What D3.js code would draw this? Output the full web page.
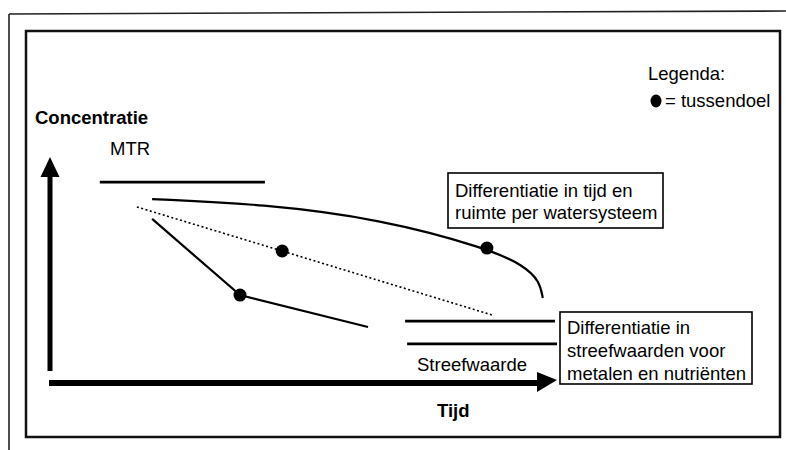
<!DOCTYPE html>
<html><head><meta charset="utf-8">
<script src="https://cdn.jsdelivr.net/npm/d3@7"></script>
<style>
html,body{margin:0;padding:0;background:#fff;}
svg{display:block;font-family:"Liberation Sans",Arial,Helvetica,sans-serif;}
</style></head>
<body><svg id="c" width="786" height="450"></svg>
<script>
// Conceptual chart: Tijd (x, 0-100) vs Concentratie (y, 0-100)
const mtrLine = [[10.0, 88.9], [42.5, 88.9]];
const upperCurve = [[20.3, 81.4], [42.1, 79.2], [65.2, 72.6], [86.2, 59.7], [93.5, 52.0], [96.6, 45.0], [97.2, 37.6]];
const dottedLine = [[17.3, 77.9], [45.9, 58.4], [87.2, 30.1]];
const lowerLine = [[20.3, 72.6], [37.6, 38.9], [62.8, 24.8]];
const streefUpper = [[70.1, 27.4], [99.6, 27.4]];
const streefLower = [[70.5, 17.3], [100, 17.3]];
const goalPoints = [[45.9, 58.4], [37.6, 38.9], [86.2, 59.7]];
const labels = {y: "Concentratie", x: "Tijd", mtr: "MTR", streef: "Streefwaarde"};
const legendTitle = "Legenda:";
const legendItem = "= tussendoel";
const box1Lines = ["Differentiatie in tijd en", "ruimte per watersysteem"];
const box2Lines = ["Differentiatie in", "streefwaarden voor", "metalen en nutriënten"];

const svg = d3.select("#c");
const x = d3.scaleLinear().domain([0, 100]).range([49, 557]);
const y = d3.scaleLinear().domain([0, 100]).range([383, 157]);
const FS = 18.5;

// outer frame lines (scan border)
svg.append("line").attr("x1", 9).attr("y1", 14).attr("x2", 786).attr("y2", 11).attr("stroke", "#222").attr("stroke-width", 1.6);
svg.append("line").attr("x1", 9).attr("y1", 14).attr("x2", 9).attr("y2", 450).attr("stroke", "#222").attr("stroke-width", 1.6);
// inner box
svg.append("rect").attr("x", 26).attr("y", 31).attr("width", 754).attr("height", 406)
  .attr("fill", "none").attr("stroke", "#111").attr("stroke-width", 2.5);

// arrows (axes)
const yBot = 371;
svg.append("line").attr("x1", x(0) + 1).attr("x2", x(0) + 1).attr("y1", yBot).attr("y2", y(100) + 18)
  .attr("stroke", "#000").attr("stroke-width", 5);
svg.append("path").attr("d", `M${x(0)+1-9.5},${y(100)+20} L${x(0)+1},${y(100)} L${x(0)+1+9.5},${y(100)+20} Z`).attr("fill", "#000");
svg.append("line").attr("x1", x(0)).attr("x2", x(100) - 18).attr("y1", y(0)).attr("y2", y(0))
  .attr("stroke", "#000").attr("stroke-width", 6);
svg.append("path").attr("d", `M${x(100)-20},${y(0)-11} L${x(100)},${y(0)-3} L${x(100)-20},${y(0)+9} Z`).attr("fill", "#000");

// axis labels
svg.append("text").attr("x", 35).attr("y", 124).attr("font-size", FS).attr("font-weight", "bold").text(labels.y);
svg.append("text").attr("x", 437).attr("y", 417).attr("font-size", FS).attr("font-weight", "bold").text(labels.x);
svg.append("text").attr("x", 110).attr("y", 155).attr("font-size", FS).text(labels.mtr);
svg.append("text").attr("x", 417).attr("y", 371).attr("font-size", FS).text(labels.streef);

const line = d3.line().x(d => x(d[0])).y(d => y(d[1]));
const curve = d3.line().x(d => x(d[0])).y(d => y(d[1])).curve(d3.curveBasis);

svg.append("path").attr("d", line(mtrLine)).attr("fill", "none").attr("stroke", "#000").attr("stroke-width", 2.6);
svg.append("path").attr("d", curve(upperCurve)).attr("fill", "none").attr("stroke", "#000").attr("stroke-width", 2.2);
svg.append("path").attr("d", line(dottedLine)).attr("fill", "none").attr("stroke", "#000").attr("stroke-width", 1.6).attr("stroke-dasharray", "2,2.5");
svg.append("path").attr("d", line(lowerLine)).attr("fill", "none").attr("stroke", "#000").attr("stroke-width", 2.2);
svg.append("path").attr("d", line(streefUpper)).attr("fill", "none").attr("stroke", "#000").attr("stroke-width", 2.6);
svg.append("path").attr("d", line(streefLower)).attr("fill", "none").attr("stroke", "#000").attr("stroke-width", 2.6);

svg.selectAll("circle.goal").data(goalPoints).join("circle").attr("class", "goal")
  .attr("cx", d => x(d[0])).attr("cy", d => y(d[1])).attr("r", 6.5).attr("fill", "#000");

// legend
svg.append("text").attr("x", 648).attr("y", 80).attr("font-size", FS).text(legendTitle);
svg.append("ellipse").attr("cx", 656).attr("cy", 101).attr("rx", 5.5).attr("ry", 6.5).attr("fill", "#000");
svg.append("text").attr("x", 665).attr("y", 107).attr("font-size", FS).text(legendItem);

// annotation boxes
function box(x0, y0, w, h, lines, lh, firstBase) {
  svg.append("rect").attr("x", x0).attr("y", y0).attr("width", w).attr("height", h)
    .attr("fill", "#fff").attr("stroke", "#000").attr("stroke-width", 1.6);
  lines.forEach((t, i) => svg.append("text").attr("x", x0 + 7).attr("y", firstBase + i * lh).attr("font-size", FS).text(t));
}
box(448, 173, 215, 55, box1Lines, 22, 197);
box(560, 312, 192, 72, box2Lines, 23, 334);
</script></body></html>
